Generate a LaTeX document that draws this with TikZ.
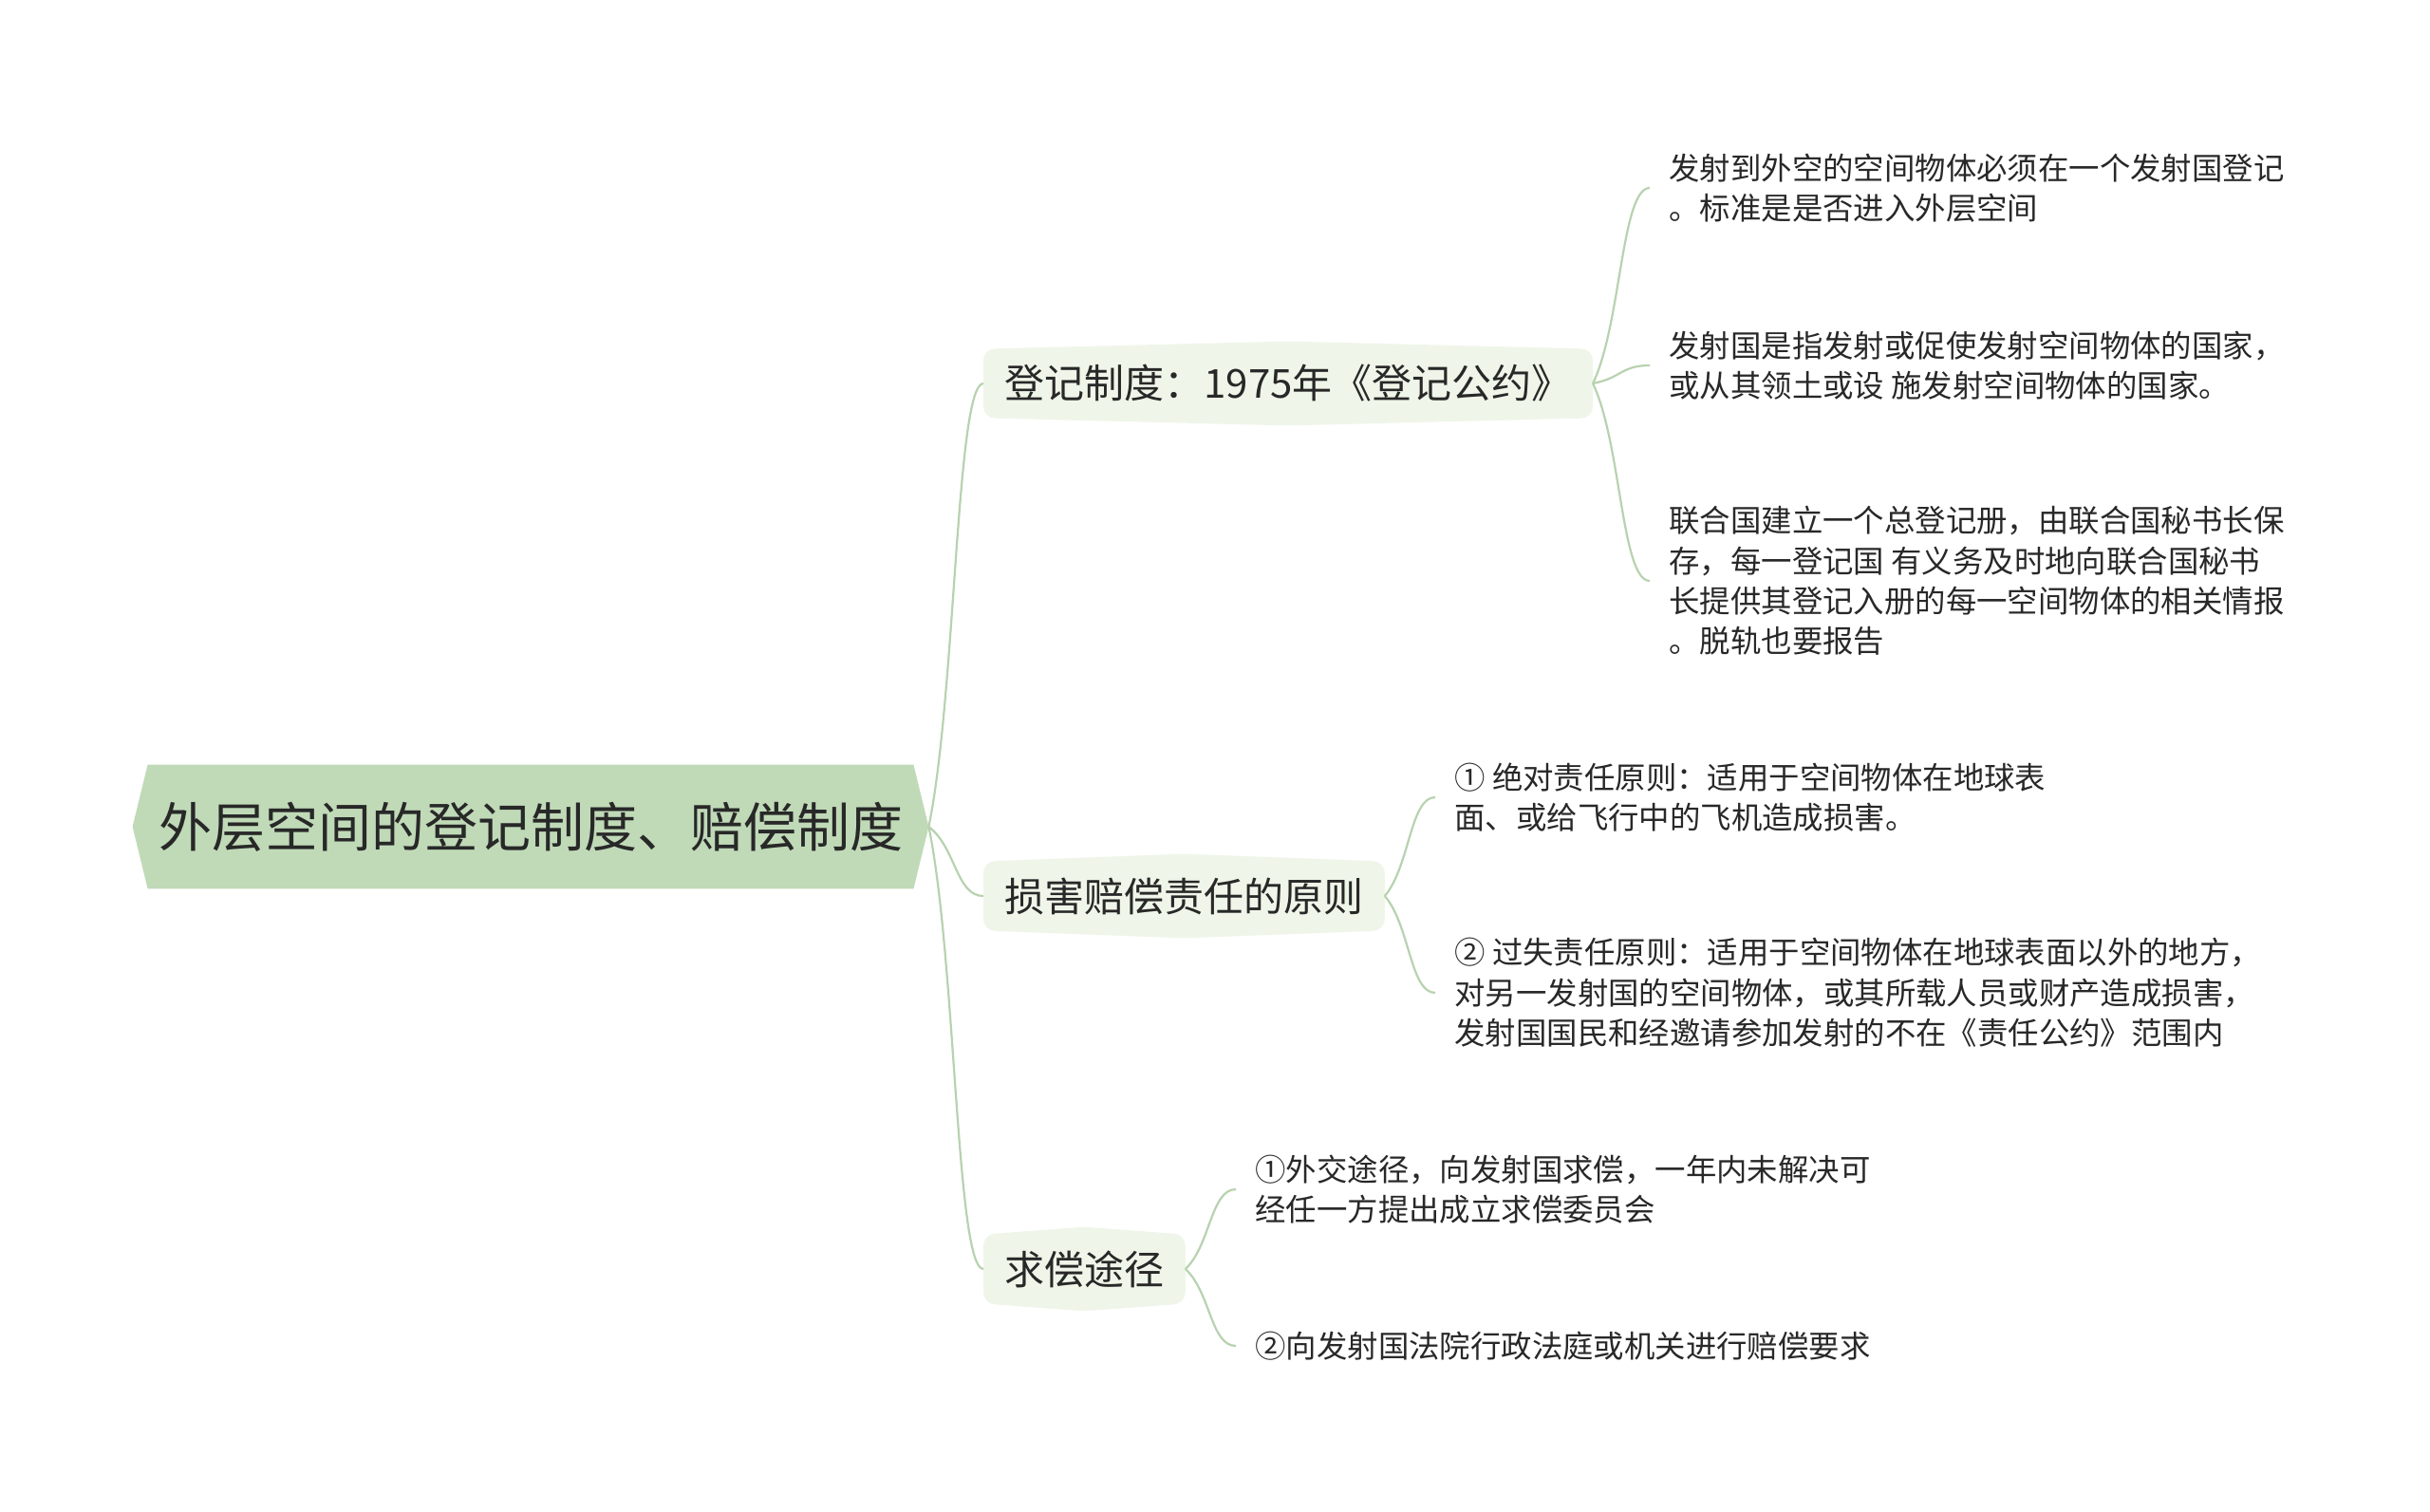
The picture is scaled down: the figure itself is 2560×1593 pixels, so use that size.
\documentclass[tikz,border=0pt]{standalone}
\usepackage{fontspec}
\setmainfont{Noto Sans CJK SC}
\usetikzlibrary{calc,backgrounds}
\definecolor{rootfill}{RGB}{192,218,184}
\definecolor{topicfill}{RGB}{239,246,233}
\definecolor{linkcol}{RGB}{184,210,176}
\definecolor{ink}{RGB}{40,40,40}
\tikzset{
  rootbox/.style={inner xsep=13.5pt, minimum height=65pt, text=ink, font=\fontsize{28pt}{34pt}\selectfont},
  topic/.style={anchor=west, inner xsep=11pt, minimum height=36pt, text=ink, font=\fontsize{21pt}{26pt}\selectfont},
  leaf/.style={anchor=west, align=left, inner xsep=10pt, inner ysep=0pt, text=ink, font=\fontsize{16.2pt}{21.2pt}\selectfont},
  link/.style={draw=linkcol, line width=1.1pt,
    to path={.. controls ($(\tikztostart)!0.3!(\tikztotarget) + 0.2*(\tikztostart -| \tikztotarget) - 0.2*(\tikztostart)$)
      and ($(\tikztotarget)!0.5!(\tikztostart |- \tikztotarget)$) .. (\tikztotarget)}}
}
\begin{document}
\begin{tikzpicture}[x=0.5pt, y=-0.5pt]
    \useasboundingbox (0,0) rectangle (2560,1593);
    \node[rootbox] (root) at (559,871) {外层空间的登记制度、赔偿制度};
    \node[topic] (reg) at (1036,404) {登记制度：1975年《登记公约》};
    \node[topic] (dmg) at (1036,944) {损害赔偿责任的原则};
    \node[topic] (way) at (1036,1337) {求偿途径};
    \node[leaf] (reg1) at (1738,198) {发射到外空的空间物体必须在一个发射国登记\\。标准是是否进入外层空间};
    \node[leaf] (reg2) at (1738,385) {发射国是指发射或促使发射空间物体的国家，\\或从其领土或设 施发射空间物体的国家。};
    \node[leaf] (reg3) at (1738,612) {联合国建立一个总登记册，由联合国秘书长保\\存，每一登记国 有义务及时地向联合国秘书\\长提供其登记入册的每一空间物体的相关情报\\。脱轨也要报告};
    \node[leaf] (dmg1) at (1512,840) {① 绝对责任原则：适用于空间物体在地球表\\面、或给飞行中的飞机造成损害。};
    \node[leaf] (dmg2) at (1512,1046) {② 过失责任原则：适用于空间物体在地球表面以外的地方，\\对另一发射国的空间物体，或其所载人员或财产造成损害，\\发射国国民和经邀请参加发射的不在《责任公约》范围内};
    \node[leaf] (way1) at (1302,1253) {①外交途径，向发射国求偿，一年内未解决可\\经任一方提出成立求偿委员会};
    \node[leaf] (way2) at (1302,1418) {②向发射国法院行政法庭或机关进行赔偿要求};
    \begin{scope}[on background layer]
        \fill[white] (0,0) rectangle (2560,1593);
        \fill[rootfill] (root.west) -- ([xshift=8pt]root.north west) -- ([xshift=-8pt]root.north east)
            -- (root.east) -- ([xshift=-8pt]root.south east) -- ([xshift=8pt]root.south west) -- cycle;
        \foreach \n in {reg,dmg,way}
            \fill[topicfill, rounded corners=6pt] (\n.north west) -- ([yshift=4pt]\n.north) -- (\n.north east)
                -- (\n.south east) -- ([yshift=-4pt]\n.south) -- (\n.south west) -- cycle;
    \end{scope}
    \draw[link] (root.east) to (reg.west)
                (root.east) to (dmg.west)
                (root.east) to (way.west);
    \draw[link] (reg.east) to (reg1.west)
                (reg.east) to (reg2.west)
                (reg.east) to (reg3.west);
    \draw[link] (dmg.east) to (dmg1.west)
                (dmg.east) to (dmg2.west);
    \draw[link] (way.east) to (way1.west)
                (way.east) to (way2.west);
\end{tikzpicture}
\end{document}
